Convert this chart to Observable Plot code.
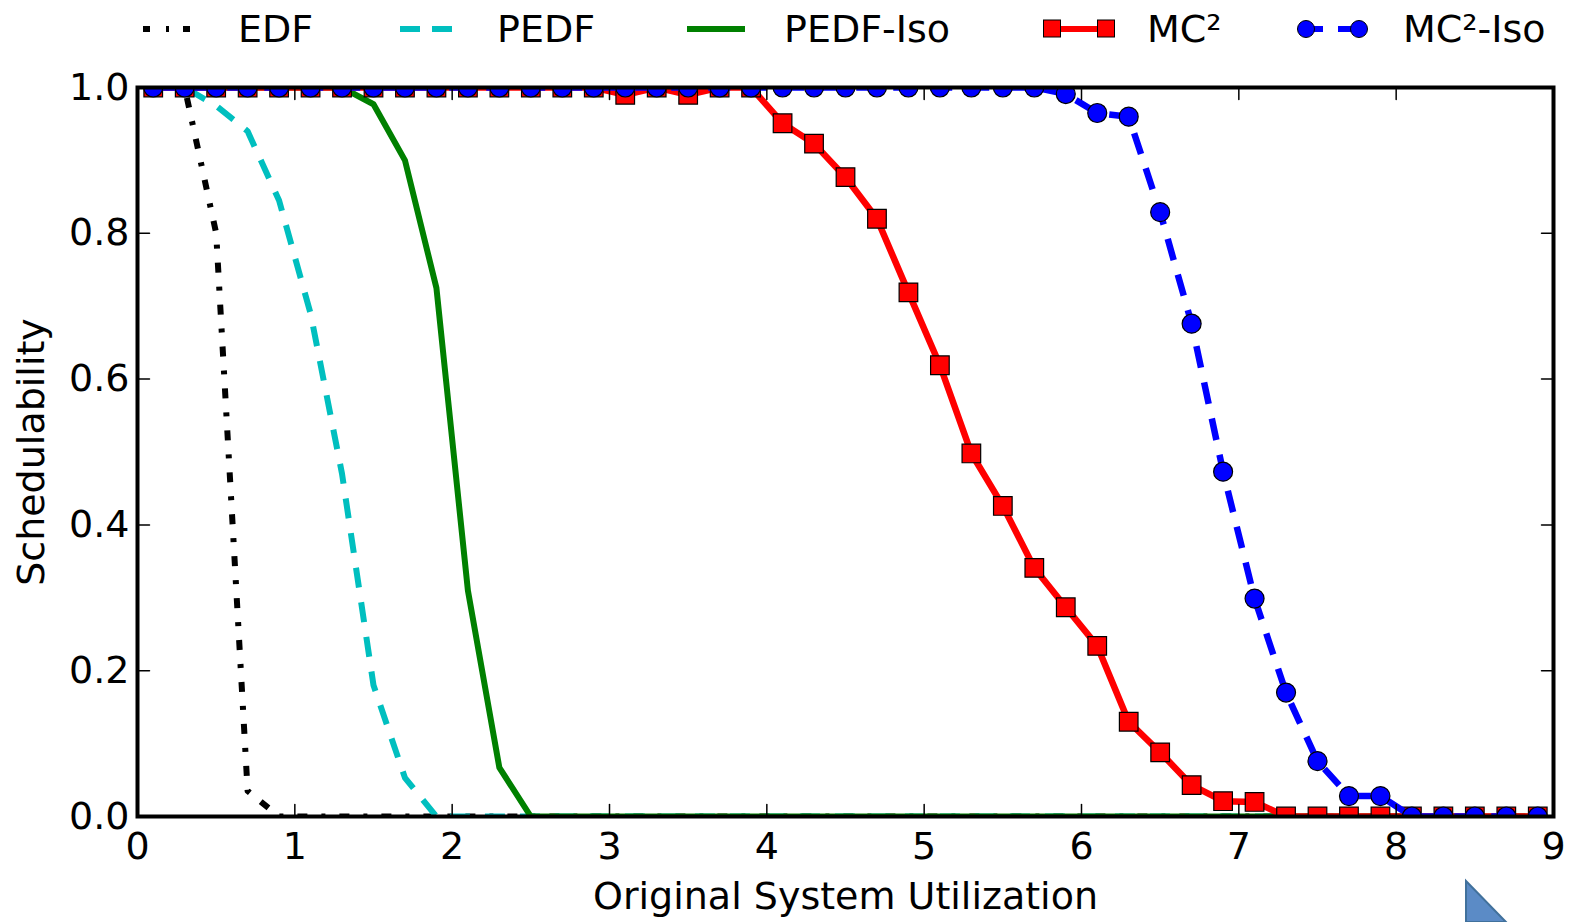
<!DOCTYPE html>
<html><head><meta charset="utf-8">
<script src="https://cdn.jsdelivr.net/npm/d3@7"></script>
<script src="https://cdn.jsdelivr.net/npm/@observablehq/plot@0.6"></script>
<style>
html,body{margin:0;padding:0;background:#fff;}
body{width:1577px;height:922px;overflow:hidden;position:relative;font-family:"DejaVu Sans",sans-serif;}
#legend{position:relative;width:1577px;height:60px;}
#legend svg{position:absolute;left:0;top:0;}
#chart{position:absolute;left:0;top:60px;}
#deco{position:absolute;left:0;top:0;pointer-events:none;}
</style></head><body>
<div id="legend"></div>
<div id="chart"></div>
<script>
// ---- data ----
const utilization = [0.1,0.3,0.5,0.7,0.9,1.1,1.3,1.5,1.7,1.9,2.1,2.3,2.5,2.7,2.9,3.1,3.3,3.5,3.7,3.9,4.1,4.3,4.5,4.7,4.9,5.1,5.3,5.5,5.7,5.9,6.1,6.3,6.5,6.7,6.9,7.1,7.3,7.5,7.7,7.9,8.1,8.3,8.5,8.7,8.9];
const edf = [1,1,0.8,0.035,0,0,0,0,0,0,0,0,0,0,0,0,0,0,0,0,0,0,0,0,0,0,0,0,0,0,0,0,0,0,0,0,0,0,0,0,0,0,0,0,0];
const pedf = [1,1,0.975,0.94,0.845,0.69,0.47,0.18,0.053,0,0,0,0,0,0,0,0,0,0,0,0,0,0,0,0,0,0,0,0,0,0,0,0,0,0,0,0,0,0,0,0,0,0,0,0];
const pedfIso = [1,1,1,1,1,1,1,0.977,0.9,0.725,0.31,0.067,0,0,0,0,0,0,0,0,0,0,0,0,0,0,0,0,0,0,0,0,0,0,0,0,0,0,0,0,0,0,0,0,0];
const mc2 = [1,1,1,1,1,1,1,1,1,1,1,1,1,1,1,0.99,1,0.99,1,1,0.951,0.923,0.877,0.82,0.719,0.619,0.498,0.426,0.341,0.287,0.234,0.13,0.088,0.043,0.021,0.02,0,0,0,0,0,0,0,0,0];
const mc2Iso = [1,1,1,1,1,1,1,1,1,1,1,1,1,1,1,1,1,1,1,1,1,1,1,1,1,1,1,1,1,0.991,0.965,0.96,0.829,0.676,0.473,0.299,0.17,0.076,0.028,0.028,0,0,0,0,0];
const xTicks = [0,1,2,3,4,5,6,7,8,9];
const yTicks = [0,0.2,0.4,0.6,0.8,1.0];
const seriesNames = ["EDF","PEDF","PEDF-Iso","MC\u00B2","MC\u00B2-Iso"];
const xLabel = "Original System Utilization";
const yLabel = "Schedulability";

const rows = (ys) => utilization.map((x, i) => ({x, y: ys[i]}));
const font = "'DejaVu Sans', sans-serif";

const tick = (dx, dy) => ({draw(ctx, l) { ctx.moveTo(0, 0); ctx.lineTo(dx * l, dy * l); }});
const tickOpts = {stroke: "black", strokeWidth: 1.5, length: 12, anchor: "start"};

const chart = Plot.plot({
  width: 1577,
  height: 862,
  marginLeft: 137,
  marginRight: 24,
  marginTop: 27,
  marginBottom: 106,
  style: {fontFamily: font, fontSize: "38px", color: "black", background: "white"},
  x: {domain: [0, 9]},
  y: {domain: [0, 1]},
  marks: [
    Plot.line(rows(edf), {x: "x", y: "y", stroke: "black", strokeWidth: 6, strokeDasharray: "10,14,4,14", strokeLinecap: "butt", strokeLinejoin: "round", clip: true}),
    Plot.line(rows(pedf), {x: "x", y: "y", stroke: "#00bfbf", strokeWidth: 6, strokeDasharray: "20,15", strokeLinecap: "butt", strokeLinejoin: "round", clip: true}),
    Plot.line(rows(pedfIso), {x: "x", y: "y", stroke: "#008000", strokeWidth: 6, strokeLinejoin: "round", clip: true}),
    Plot.line(rows(mc2), {x: "x", y: "y", stroke: "#ff0000", strokeWidth: 6.5, strokeLinejoin: "round", clip: true}),
    Plot.dot(rows(mc2), {x: "x", y: "y", symbol: "square", r: 10.5, fill: "#ff0000", stroke: "black", strokeWidth: 1.2, clip: true}),
    Plot.line(rows(mc2Iso), {x: "x", y: "y", stroke: "#0000ff", strokeWidth: 6.5, strokeDasharray: "22,15", strokeLinecap: "butt", strokeLinejoin: "round", clip: true}),
    Plot.dot(rows(mc2Iso), {x: "x", y: "y", symbol: "circle", r: 9.5, fill: "#0000ff", stroke: "black", strokeWidth: 1.2, clip: true}),
    // inward ticks on all four sides
    Plot.vector(xTicks, {x: d => d, frameAnchor: "bottom", shape: tick(0, -1), ...tickOpts}),
    Plot.vector(xTicks, {x: d => d, frameAnchor: "top", shape: tick(0, 1), ...tickOpts}),
    Plot.vector(yTicks, {y: d => d, frameAnchor: "left", shape: tick(1, 0), ...tickOpts}),
    Plot.vector(yTicks, {y: d => d, frameAnchor: "right", shape: tick(-1, 0), ...tickOpts}),
    Plot.axisX(xTicks, {anchor: "bottom", tickSize: 0, tickPadding: 16, label: null, tickFormat: d3.format("d"), fill: "black"}),
    Plot.axisY(yTicks, {anchor: "left", tickSize: 0, tickPadding: 8, label: null, tickFormat: d3.format(".1f"), fill: "black"}),
    Plot.text([xLabel], {text: d => d, frameAnchor: "bottom", textAnchor: "middle", lineAnchor: "bottom", dy: 92, fill: "black"}),
    Plot.text([yLabel], {text: d => d, frameAnchor: "left", textAnchor: "middle", rotate: -90, lineAnchor: "middle", dx: -106, fill: "black"}),
    Plot.frame({stroke: "black", strokeWidth: 4})
  ]
});
document.getElementById("chart").appendChild(chart);

// ---- legend (above the chart) ----
const leg = d3.select("#legend").append("svg").attr("width", 1577).attr("height", 60)
  .style("font-family", font).style("font-size", "38px");
const ly = 29;
// EDF
leg.append("line").attr("x1", 143).attr("x2", 193).attr("y1", ly).attr("y2", ly)
  .attr("stroke", "black").attr("stroke-width", 6).attr("stroke-dasharray", "7,16,3,14");
// PEDF
leg.append("line").attr("x1", 400).attr("x2", 452).attr("y1", ly).attr("y2", ly)
  .attr("stroke", "#00bfbf").attr("stroke-width", 6).attr("stroke-dasharray", "20,12");
// PEDF-Iso
leg.append("line").attr("x1", 687).attr("x2", 745).attr("y1", ly).attr("y2", ly)
  .attr("stroke", "#008000").attr("stroke-width", 6);
// MC2
leg.append("line").attr("x1", 1052).attr("x2", 1106).attr("y1", ly).attr("y2", ly)
  .attr("stroke", "#ff0000").attr("stroke-width", 6);
for (const cx of [1052, 1106]) {
  leg.append("rect").attr("x", cx - 8.5).attr("y", ly - 9).attr("width", 17).attr("height", 17)
    .attr("fill", "#ff0000").attr("stroke", "black").attr("stroke-width", 1);
}
// MC2-Iso
leg.append("line").attr("x1", 1306).attr("x2", 1359).attr("y1", ly).attr("y2", ly)
  .attr("stroke", "#0000ff").attr("stroke-width", 6).attr("stroke-dasharray", "17,15");
for (const cx of [1306, 1359]) {
  leg.append("circle").attr("cx", cx).attr("cy", ly).attr("r", 8.5)
    .attr("fill", "#0000ff").attr("stroke", "black").attr("stroke-width", 1);
}
const textX = [238, 497, 784, 1147, 1403];
seriesNames.forEach((name, i) => {
  leg.append("text").attr("x", textX[i]).attr("y", 42).attr("fill", "black").text(name);
});

// ---- slide decoration in the lower right corner ----
const deco = d3.select("body").append("svg").attr("id", "deco").attr("width", 1577).attr("height", 922);
deco.append("polygon").attr("points", "1466,881 1466,922 1506,922")
  .attr("fill", "#5b8bc6").attr("stroke", "#41719c").attr("stroke-width", 2);
</script>
</body></html>
